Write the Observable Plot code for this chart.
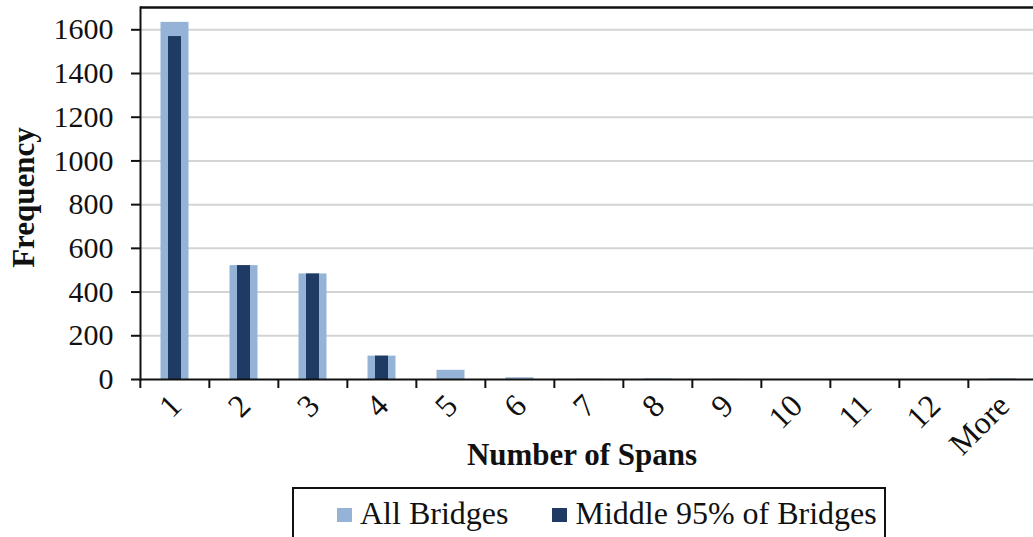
<!DOCTYPE html>
<html>
<head>
<meta charset="utf-8">
<script src="https://cdn.jsdelivr.net/npm/d3@7"></script>
<script src="https://cdn.jsdelivr.net/npm/@observablehq/plot@0.6"></script>
<style>
  html, body { margin: 0; padding: 0; background: #fff; overflow: hidden; }
  #chart svg { display: block; }
  #legend {
    box-sizing: border-box;
    margin-left: 292px;
    width: 594px;
    height: 60px;
    border: 2px solid #111;
    font-family: "Liberation Serif", "Times New Roman", serif;
    font-size: 32px;
    line-height: 36px;
    color: #111;
    display: flex;
    align-items: flex-start;
    padding-left: 43px;
    padding-top: 6px;
    white-space: nowrap;
  }
  #legend .item { display: flex; align-items: center; margin-right: 44px; flex-shrink: 0; }
  #legend .sw { width: 15px; height: 14px; margin-right: 8px; margin-top: 3px; flex-shrink: 0; }
</style>
</head>
<body>
<div id="chart"></div>
<div id="legend"></div>
<script>
const categories = ["1","2","3","4","5","6","7","8","9","10","11","12","More"];
const allBridges = [1634, 521, 483, 107, 42, 8, 1, 3, 1, 0, 0, 0, 3];
const middle95 = [1569, 521, 483, 107, 0, 0, 0, 0, 0, 0, 0, 0, 0];
const yTicks = [0, 200, 400, 600, 800, 1000, 1200, 1400, 1600];
const gridValues = [200, 400, 600, 800, 1000, 1200, 1400, 1600];
const yMax = 1702;
const seriesNames = ["All Bridges", "Middle 95% of Bridges"];
const seriesColors = ["#95b3d7", "#1f3a63"];

const W = 1033, H = 487;
const mLeft = 140, mTop = 7, mBottom = 108;
const xRange = [138, 1039];
const bw = (xRange[1] - xRange[0]) / categories.length;

const dataAll = categories.map((c, i) => ({cat: c, value: allBridges[i]}));
const dataMid = categories.map((c, i) => ({cat: c, value: middle95[i]}));

const font = "Liberation Serif, Times New Roman, serif";

const chart = Plot.plot({
  width: W,
  height: H,
  marginLeft: mLeft,
  marginRight: 0,
  marginTop: mTop,
  marginBottom: mBottom,
  style: {fontFamily: font, color: "#111", background: "#fff"},
  x: {domain: categories, range: xRange, padding: 0},
  y: {domain: [0, yMax]},
  marks: [
    Plot.ruleY(gridValues, {stroke: "#d4d4d4", strokeWidth: 2}),
    Plot.barY(dataAll, {x: "cat", y: "value", fill: seriesColors[0], insetLeft: 20.5, insetRight: 20.5}),
    Plot.barY(dataMid, {x: "cat", y: "value", fill: seriesColors[1], insetLeft: 28, insetRight: 28}),
    Plot.ruleY([yMax], {stroke: "#111", strokeWidth: 2.5}),
    Plot.ruleY([0], {stroke: "#111", strokeWidth: 2}),
    Plot.frame({anchor: "left", stroke: "#111", strokeWidth: 2}),
    Plot.ruleX(categories, {x: d => d, y1: 0, y2: 0, insetBottom: -9, dx: -bw / 2, stroke: "#111", strokeWidth: 2}),
    Plot.axisY({ticks: yTicks, tickFormat: d => String(d), tickSize: 9, tickPadding: 18, fontSize: 30, label: null, stroke: "#111", strokeWidth: 2}),
    Plot.axisX({tickSize: 0, tickPadding: 21, tickRotate: -45, fontSize: 32, label: null, dx: 1}),
    Plot.text(["Frequency"], {frameAnchor: "left", textAnchor: "middle", lineAnchor: "middle", rotate: -90, dx: -116, dy: 4, fontSize: 31, fontWeight: "bold", fill: "#111"}),
    Plot.text(["Number of Spans"], {frameAnchor: "bottom", textAnchor: "middle", lineAnchor: "middle", dy: 76, dx: -5, fontSize: 31, fontWeight: "bold", fill: "#111"})
  ]
});
document.getElementById("chart").appendChild(chart);

const legend = document.getElementById("legend");
seriesNames.forEach((name, i) => {
  const item = document.createElement("div");
  item.className = "item";
  const sw = document.createElement("span");
  sw.className = "sw";
  sw.style.background = seriesColors[i];
  const t = document.createElement("span");
  t.textContent = name;
  item.appendChild(sw);
  item.appendChild(t);
  legend.appendChild(item);
});
</script>
</body>
</html>
